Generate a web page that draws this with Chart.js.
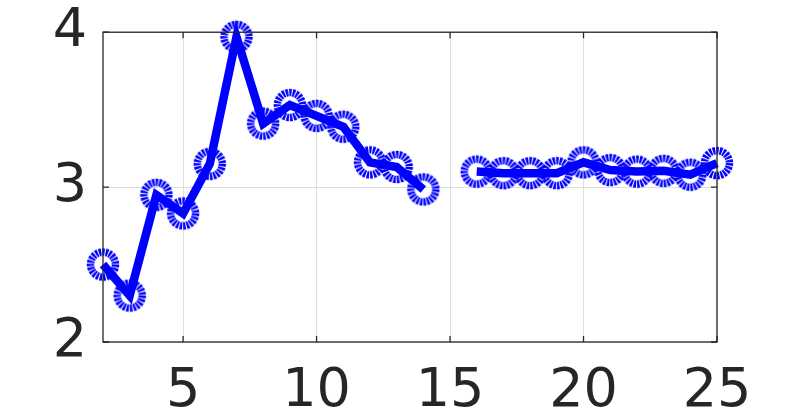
<!DOCTYPE html>
<html>
<head>
<meta charset="utf-8">
<script src="https://cdn.jsdelivr.net/npm/chart.js@4/dist/chart.umd.min.js"></script>
<style>
 html, body { margin: 0; padding: 0; background: #fff; }
 #wrap { width: 793px; height: 420px; }
</style>
</head>
<body>
<div id="wrap"><canvas id="chart" width="793" height="420"></canvas></div>
<script>
// values, null = gap at x=15
const xValues = [2, 3, 4, 5, 6, 7, 8, 9, 10, 11, 12, 13, 14, 15, 16, 17, 18, 19, 20, 21, 22, 23, 24, 25];
const yValues = [2.50, 2.30, 2.95, 2.83, 3.15, 3.97, 3.41, 3.53, 3.46, 3.39, 3.16, 3.13, 2.985, null,
 3.10, 3.09, 3.09, 3.09, 3.16, 3.11, 3.10, 3.105, 3.08, 3.155];
const xTicks = [5, 10, 15, 20, 25];
const yTicks = [2, 3, 4];

const ink = '#262626';
const blue = '#0000ff';

// dotted ring marker
function makeMarker() {
 const c = document.createElement('canvas');
 c.width = 36; c.height = 36;
 const g = c.getContext('2d');
 g.strokeStyle = blue;
 g.lineWidth = 7.5;
 g.setLineDash([2.4, 1.0]);
 g.beginPath();
 g.arc(18, 18, 12.5, 0, Math.PI * 2);
 g.stroke();
 return c;
}

// box + inward ticks like the original
const boxPlugin = {
 id: 'box',
 afterDraw(chart) {
   const { ctx, chartArea: a, scales } = chart;
   ctx.save();
   ctx.strokeStyle = ink;
   ctx.lineWidth = 1.3;
   ctx.strokeRect(a.left, a.top, a.right - a.left, a.bottom - a.top);
   ctx.beginPath();
   xTicks.forEach(v => {
     const px = scales.x.getPixelForValue(v);
     ctx.moveTo(px, a.bottom); ctx.lineTo(px, a.bottom - 6);
     ctx.moveTo(px, a.top); ctx.lineTo(px, a.top + 6);
   });
   yTicks.forEach(v => {
     const py = scales.y.getPixelForValue(v);
     ctx.moveTo(a.left, py); ctx.lineTo(a.left + 6, py);
     ctx.moveTo(a.right, py); ctx.lineTo(a.right - 6, py);
   });
   ctx.stroke();
   ctx.restore();
 }
};

const marker = makeMarker();

new Chart(document.getElementById('chart'), {
 type: 'line',
 data: {
   datasets: [{
     data: xValues.map((x, i) => ({ x, y: yValues[i] })),
     borderColor: blue,
     borderWidth: 8.5,
     pointStyle: marker,
     pointRadius: 14,
     pointHoverRadius: 14,
     spanGaps: false,
     tension: 0,
     clip: false,
   }],
 },
 options: {
   responsive: false,
   animation: false,
   layout: { padding: { top: 32, right: 76, left: 0, bottom: 0 } },
   plugins: { legend: { display: false }, tooltip: { enabled: false } },
   scales: {
     x: {
       type: 'linear',
       min: 2,
       max: 25,
       afterBuildTicks: s => { s.ticks = xTicks.map(v => ({ value: v })); },
       afterFit: s => { s.height = 78; },
       grid: { color: '#dedede', lineWidth: 1, drawTicks: false },
       border: { display: false },
       ticks: { color: ink, padding: 18, font: { family: 'DejaVu Sans', size: 54 }, maxRotation: 0 },
     },
     y: {
       min: 2,
       max: 4,
       afterBuildTicks: s => { s.ticks = yTicks.map(v => ({ value: v })); },
       afterFit: s => { s.width = 103; },
       grid: { color: '#dedede', lineWidth: 1, drawTicks: false },
       border: { display: false },
       ticks: { color: ink, padding: 16, font: { family: 'DejaVu Sans', size: 54, lineHeight: 0.6 } },
     },
   },
 },
 plugins: [boxPlugin],
});
</script>
</body>
</html>
